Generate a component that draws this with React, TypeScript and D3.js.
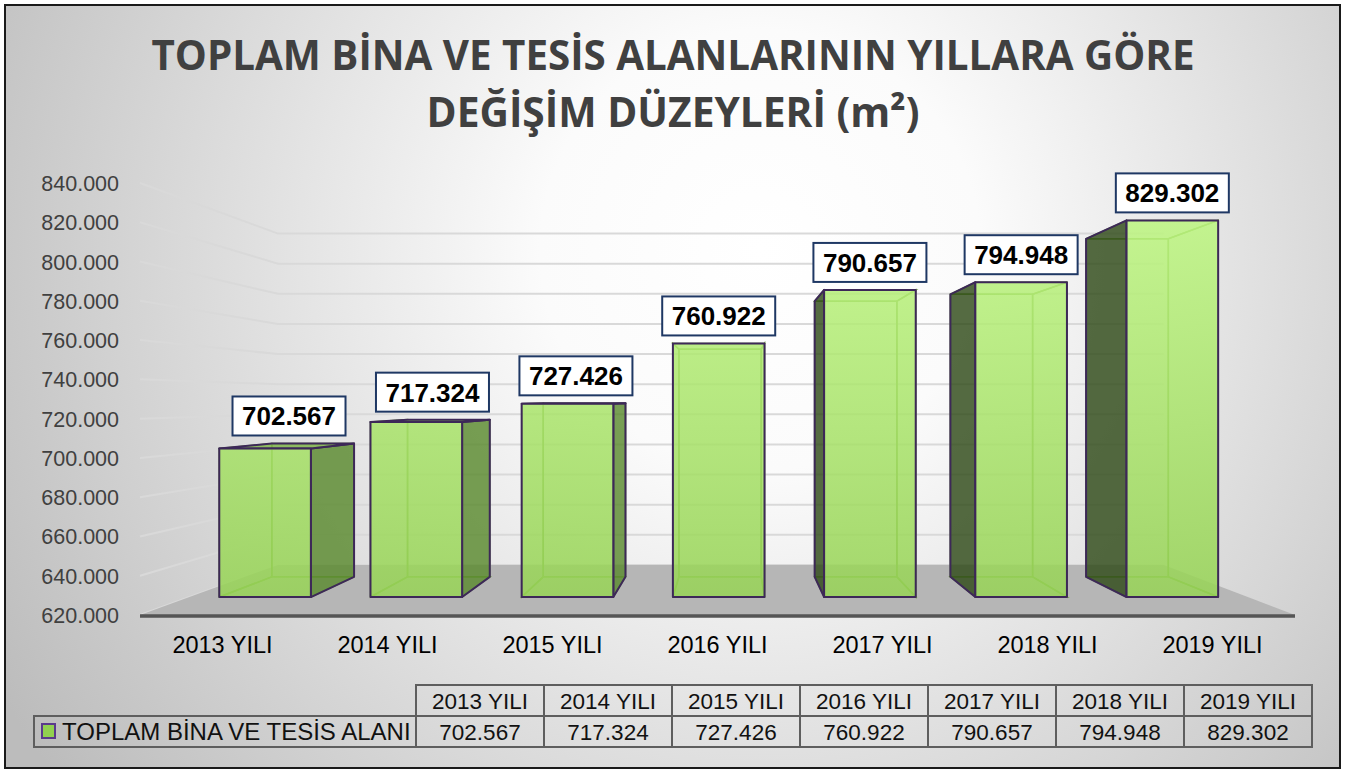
import { useEffect, useRef } from 'react';
import * as d3 from 'd3';

const years = ['2013 YILI', '2014 YILI', '2015 YILI', '2016 YILI', '2017 YILI', '2018 YILI', '2019 YILI'];
const areaValues = [702567, 717324, 727426, 760922, 790657, 794948, 829302];
const axisTicks = [620000, 640000, 660000, 680000, 700000, 720000, 740000, 760000, 780000, 800000, 820000, 840000];
const seriesName = 'TOPLAM BİNA VE TESİS ALANI';
const titleLines = ['TOPLAM BİNA VE TESİS ALANLARININ YILLARA GÖRE', 'DEĞİŞİM DÜZEYLERİ (m²)'];

// perspective: vanishing point + depth scale (Excel-like 3D column)
const VX = 732;
const VY = 400;
const K = 0.304;
const BAR_Z0 = 0.3;
const BAR_Z1 = 0.71;

const trFormat = d3.formatLocale({ decimal: ',', thousands: '.', grouping: [3], currency: ['', ' ₺'] }).format(',d');

function proj(x: number, y: number, z: number): [number, number] {
  const s = 1 / (1 + K * z);
  return [VX + s * (x - VX), VY + s * (y - VY)];
}

const poly = (pts: [number, number][]) => 'M' + pts.map(p => p.join(',')).join('L') + 'Z';

export default function App() {
  const svgRef = useRef<SVGSVGElement>(null);

  useEffect(() => {
    if (!svgRef.current) return;
    const svg = d3.select(svgRef.current);
    svg.selectAll('*').remove();

    const W = 1349;
    const H = 771;

    const x = d3.scaleBand<string>().domain(years).range([140, 1295]).paddingInner(0.394).paddingOuter(0.197);
    const y = d3.scaleLinear().domain([620000, 840000]).range([615, 183]);
    const floorY = y(620000);
    const xMin = 140;
    const xMax = 1295;

    const defs = svg.append('defs');
    const bg = defs.append('radialGradient')
      .attr('id', 'bg')
      .attr('gradientUnits', 'userSpaceOnUse')
      .attr('cx', 760).attr('cy', 250).attr('r', 880);
    bg.append('stop').attr('offset', '0').attr('stop-color', '#ffffff');
    bg.append('stop').attr('offset', '0.25').attr('stop-color', '#fbfbfb');
    bg.append('stop').attr('offset', '1').attr('stop-color', '#bcbcbc');

    const front = defs.append('linearGradient')
      .attr('id', 'barFront')
      .attr('gradientUnits', 'userSpaceOnUse')
      .attr('x1', 0).attr('y1', 200).attr('x2', 0).attr('y2', 600);
    front.append('stop').attr('offset', '0').attr('stop-color', '#bff783');
    front.append('stop').attr('offset', '1').attr('stop-color', '#97d356');

    svg.append('rect').attr('width', W).attr('height', H).attr('fill', '#ffffff');
    svg.append('rect')
      .attr('x', 5).attr('y', 5).attr('width', 1335).attr('height', 763)
      .attr('fill', 'url(#bg)')
      .attr('stroke', '#1a1a1a')
      .attr('stroke-width', 2);

    // title
    const titleWidths = [1043, 493];
    const titleBase = [70, 127];
    titleLines.forEach((line, i) => {
      svg.append('text')
        .attr('x', 673)
        .attr('y', titleBase[i])
        .attr('text-anchor', 'middle')
        .attr('font-family', '"Open Sans", "Noto Sans", sans-serif')
        .attr('font-weight', 700)
        .attr('font-size', 42)
        .attr('fill', '#404040')
        .attr('textLength', titleWidths[i])
        .attr('lengthAdjust', 'spacingAndGlyphs')
        .text(line);
    });

    // gridlines on side wall + back wall
    const grid = svg.append('g');
    axisTicks.forEach(t => {
      const a = proj(xMin, y(t), 0);
      const b = proj(xMin, y(t), 1);
      const c = proj(xMax, y(t), 1);
      grid.append('path')
        .attr('d', `M${a.join(',')}L${b.join(',')}L${c.join(',')}`)
        .attr('fill', 'none')
        .attr('stroke', '#d9d9d9')
        .attr('stroke-width', 2);
    });

    // floor
    svg.append('path')
      .attr('d', poly([proj(xMin, floorY, 0), proj(xMax, floorY, 0), proj(xMax, floorY, 1), proj(xMin, floorY, 1)]))
      .attr('fill', '#b6b6b6');
    svg.append('line')
      .attr('x1', xMin).attr('x2', xMax)
      .attr('y1', floorY + 1).attr('y2', floorY + 1)
      .attr('stroke', '#555555')
      .attr('stroke-width', 3.5);

    // axis labels
    svg.append('g')
      .selectAll('text')
      .data(axisTicks)
      .join('text')
      .attr('x', 119)
      .attr('y', d => y(d) + 8)
      .attr('text-anchor', 'end')
      .attr('font-family', '"Liberation Sans", Arial, sans-serif')
      .attr('font-size', 21.5)
      .attr('fill', '#404040')
      .text(d => trFormat(d));

    // bars
    const bars = svg.append('g');
    const labelBoxes: { cx: number; bottom: number; text: string }[] = [];
    years.forEach((yr, i) => {
      const X0 = x(yr)!;
      const X1 = X0 + x.bandwidth();
      const Yt = y(areaValues[i]);
      const Yb = floorY;
      const fLB = proj(X0, Yb, BAR_Z0), fRB = proj(X1, Yb, BAR_Z0), fRT = proj(X1, Yt, BAR_Z0), fLT = proj(X0, Yt, BAR_Z0);
      const bLB = proj(X0, Yb, BAR_Z1), bRB = proj(X1, Yb, BAR_Z1), bRT = proj(X1, Yt, BAR_Z1), bLT = proj(X0, Yt, BAR_Z1);

      const leftVis = X0 > VX;
      const rightVis = X1 < VX;
      const topVis = Yt > VY;

      const g = bars.append('g');
      // hidden edges seen through the translucent faces
      const hidden: [number, number][][] = [
        [bLB, bRB, bRT, bLT],
        [fLB, fRB, bRB, bLB],
      ];
      if (!leftVis) hidden.push([fLB, bLB, bLT, fLT]);
      if (!rightVis) hidden.push([fRB, bRB, bRT, fRT]);
      if (!topVis) hidden.push([fLT, fRT, bRT, bLT]);
      hidden.forEach(f => {
        g.append('path')
          .attr('d', poly(f))
          .attr('fill', 'none')
          .attr('stroke', '#6f9f3a')
          .attr('stroke-width', 1.5);
      });

      const faceStroke = '#3d2858';
      if (rightVis) {
        g.append('path').attr('d', poly([fRB, bRB, bRT, fRT]))
          .attr('fill', '#5a8a2e').attr('fill-opacity', 0.82)
          .attr('stroke', faceStroke).attr('stroke-width', 2).attr('stroke-linejoin', 'round');
      }
      if (leftVis) {
        g.append('path').attr('d', poly([fLB, bLB, bLT, fLT]))
          .attr('fill', '#304a19').attr('fill-opacity', 0.82)
          .attr('stroke', faceStroke).attr('stroke-width', 2).attr('stroke-linejoin', 'round');
      }
      if (topVis) {
        g.append('path').attr('d', poly([fLT, fRT, bRT, bLT]))
          .attr('fill', '#7fb44a').attr('fill-opacity', 0.85)
          .attr('stroke', faceStroke).attr('stroke-width', 2).attr('stroke-linejoin', 'round');
      }
      g.append('path').attr('d', poly([fLB, fRB, fRT, fLT]))
        .attr('fill', 'url(#barFront)').attr('fill-opacity', 0.86)
        .attr('stroke', faceStroke).attr('stroke-width', 2).attr('stroke-linejoin', 'round');

      const fc = (fLT[0] + fRT[0]) / 2;
      const bc = (bLT[0] + bRT[0]) / 2;
      labelBoxes.push({
        cx: topVis ? (fc + bc) / 2 : fc,
        bottom: Math.min(fLT[1], bLT[1]) - 8,
        text: trFormat(areaValues[i]),
      });
    });

    // data labels
    const lg = svg.append('g');
    labelBoxes.forEach(l => {
      lg.append('rect')
        .attr('x', l.cx - 56.5).attr('y', l.bottom - 39)
        .attr('width', 113).attr('height', 39)
        .attr('fill', '#ffffff')
        .attr('stroke', '#1f3864')
        .attr('stroke-width', 2);
      lg.append('text')
        .attr('x', l.cx).attr('y', l.bottom - 10)
        .attr('text-anchor', 'middle')
        .attr('font-family', '"Liberation Sans", Arial, sans-serif')
        .attr('font-weight', 700)
        .attr('font-size', 26)
        .attr('fill', '#000000')
        .text(l.text);
    });

    // category labels
    svg.append('g')
      .selectAll('text')
      .data(years)
      .join('text')
      .attr('x', d => x(d)! + x.bandwidth() / 2)
      .attr('y', 653)
      .attr('text-anchor', 'middle')
      .attr('font-family', '"Liberation Sans", Arial, sans-serif')
      .attr('font-size', 23.5)
      .attr('fill', '#000000')
      .text(d => d);

    // data table
    const col = d3.scaleBand<string>().domain(years).range([416, 1312]);
    const rowTop = 685;
    const rowH = 31;
    const tbl = svg.append('g').attr('font-family', '"Liberation Sans", Arial, sans-serif').attr('font-size', 22.5);
    const border = '#5e5e5e';
    years.forEach((yr, i) => {
      tbl.append('rect')
        .attr('x', col(yr)!).attr('y', rowTop).attr('width', col.bandwidth()).attr('height', rowH)
        .attr('fill', 'none').attr('stroke', border).attr('stroke-width', 2);
      tbl.append('rect')
        .attr('x', col(yr)!).attr('y', rowTop + rowH).attr('width', col.bandwidth()).attr('height', rowH)
        .attr('fill', 'none').attr('stroke', border).attr('stroke-width', 2);
      tbl.append('text')
        .attr('x', col(yr)! + col.bandwidth() / 2).attr('y', rowTop + 24)
        .attr('text-anchor', 'middle').attr('fill', '#111111')
        .text(yr);
      tbl.append('text')
        .attr('x', col(yr)! + col.bandwidth() / 2).attr('y', rowTop + rowH + 24)
        .attr('text-anchor', 'middle').attr('fill', '#111111')
        .text(trFormat(areaValues[i]));
    });
    tbl.append('rect')
      .attr('x', 34).attr('y', rowTop + rowH).attr('width', 416 - 34).attr('height', rowH)
      .attr('fill', 'none').attr('stroke', border).attr('stroke-width', 2);
    tbl.append('rect')
      .attr('x', 42).attr('y', rowTop + rowH + 8).attr('width', 13).attr('height', 14)
      .attr('fill', '#92d050').attr('stroke', '#5b3a8c').attr('stroke-width', 2);
    tbl.append('text')
      .attr('x', 62).attr('y', rowTop + rowH + 24)
      .attr('fill', '#111111')
      .attr('font-size', 24)
      .text(seriesName);
  }, []);

  return (
    <svg
      ref={svgRef}
      width={1349}
      height={771}
      style={{ position: 'absolute', left: 0, top: 0, display: 'block' }}
    />
  );
}
